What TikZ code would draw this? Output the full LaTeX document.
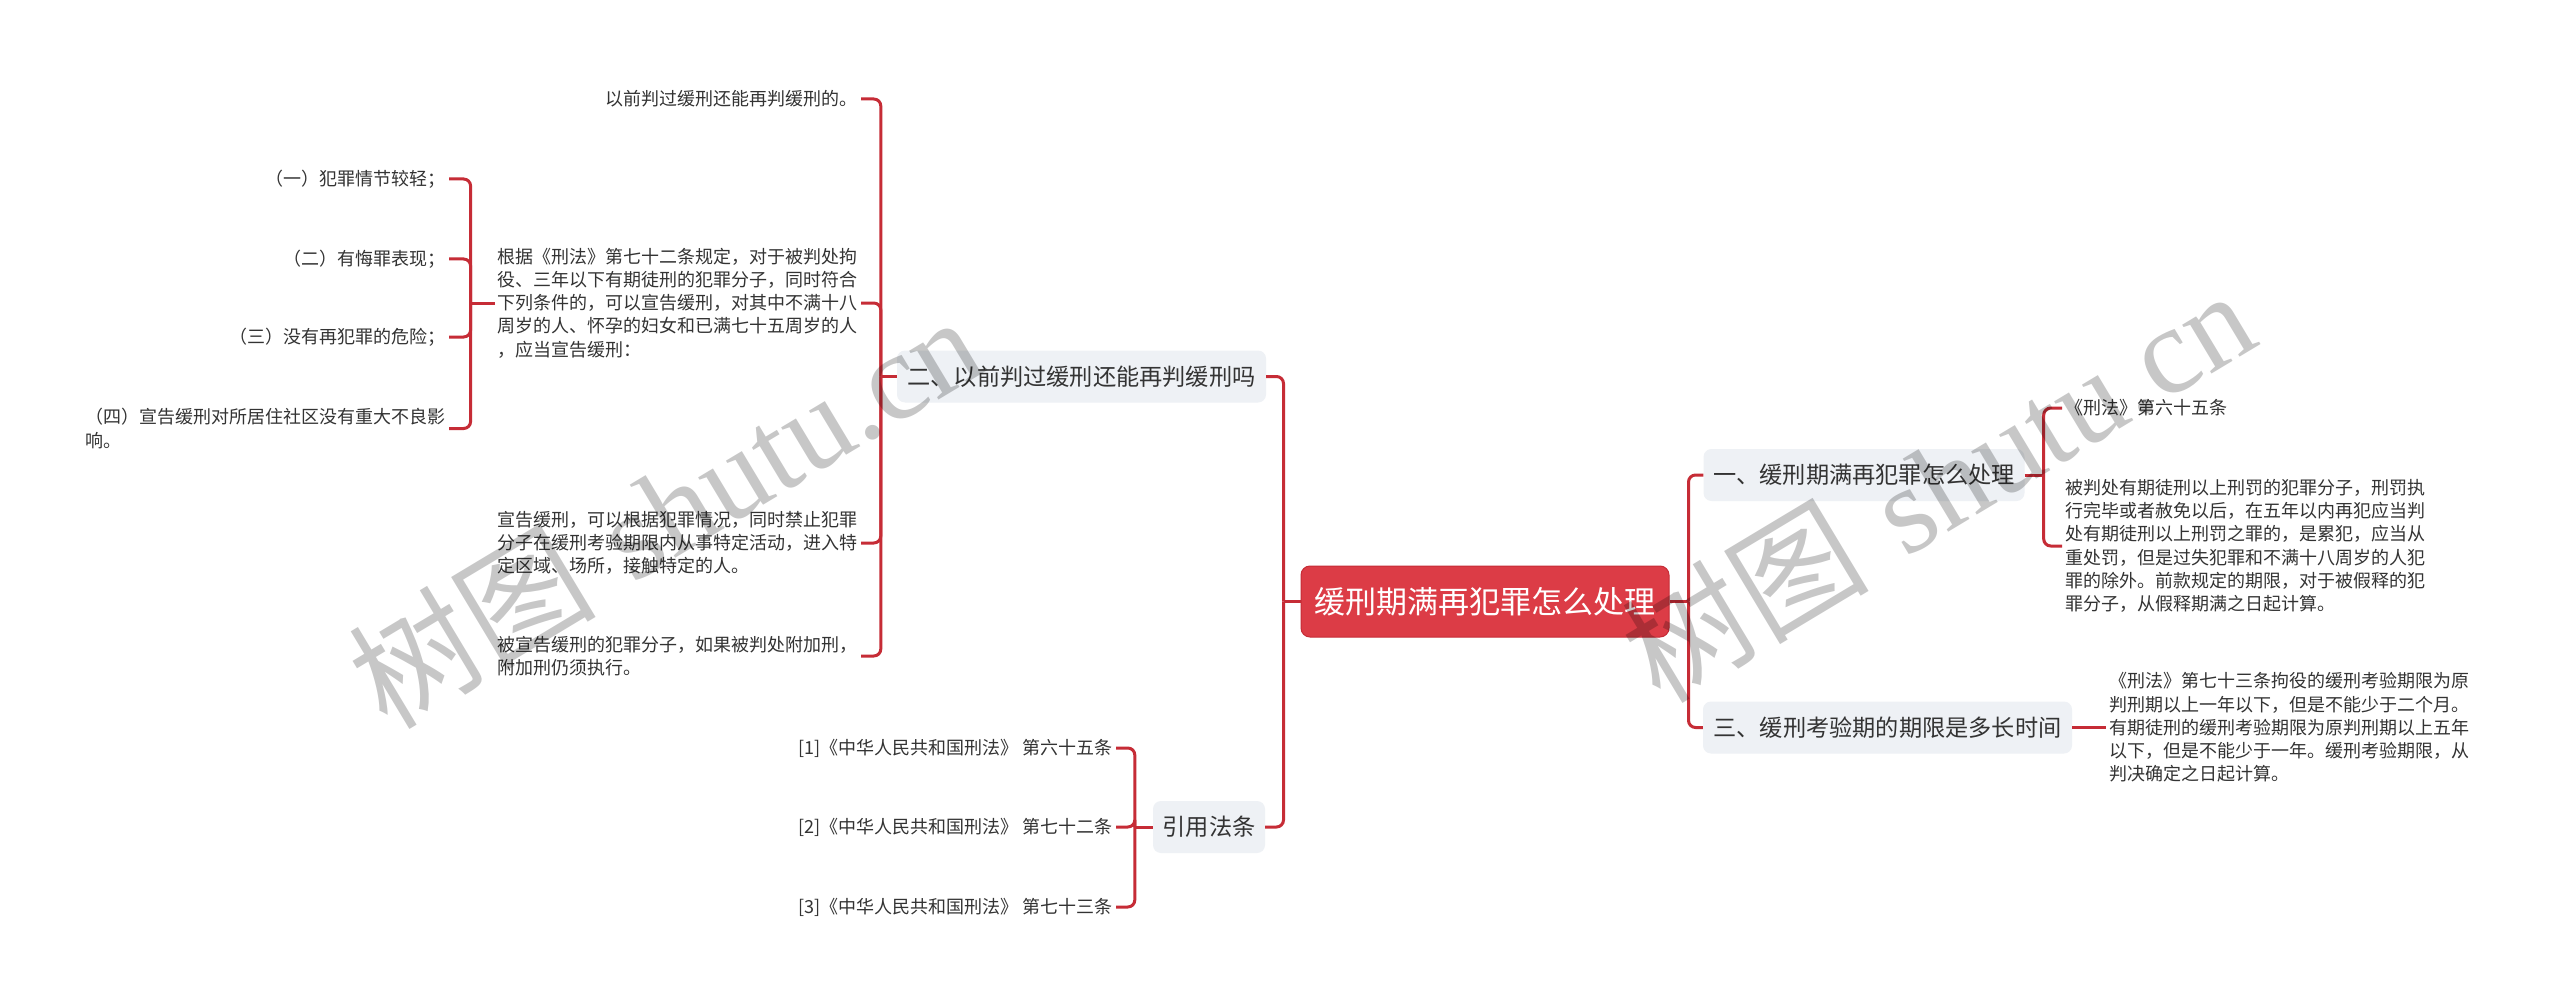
\documentclass[tikz,border=0pt]{standalone}
\usepackage{fontspec}
\newfontfamily\cjk{Noto Sans CJK SC}
\newfontfamily\wmlat{Liberation Serif}
\definecolor{rootred}{RGB}{220,60,70}
\definecolor{linkred}{RGB}{198,44,54}
\definecolor{midgray}{RGB}{238,241,245}
\definecolor{txt}{RGB}{51,51,51}
\begin{document}
\begin{tikzpicture}[x=1pt,y=-1pt,
  link/.style={draw=linkred, line width=3pt, rounded corners=7pt},
  rootbox/.style={rectangle, rounded corners=9pt, fill=rootred, draw=linkred, line width=1pt,
    text=white, font={\cjk\fontsize{31}{31}\selectfont}, minimum width=368pt, minimum height=71pt, inner sep=0pt},
  midbox/.style={rectangle, rounded corners=8pt, fill=midgray, text=txt,
    font={\cjk\fontsize{23.2}{28}\selectfont}, minimum height=52pt, inner sep=0pt},
  leaf/.style={text=txt, font={\cjk\fontsize{18}{23.3}\selectfont}, inner sep=3pt, align=left},
  wmark/.style={rotate=31, text=black, text opacity=0.22, font={\fontsize{124}{124}\selectfont}, inner sep=0pt}
]
\useasboundingbox (0,0) rectangle (2560,1003);
\fill[white] (0,0) rectangle (2560,1003);

% main nodes
\node[rootbox] (root) at (1485,601.5) {缓刑期满再犯罪怎么处理};
\node[midbox, minimum width=369pt] (L1) at (1081.5,376.5) {二、以前判过缓刑还能再判缓刑吗};
\node[midbox, minimum width=112pt] (L2) at (1209,827) {引用法条};
\node[midbox, minimum width=321pt] (R1) at (1864,475) {一、缓刑期满再犯罪怎么处理};
\node[midbox, minimum width=369pt] (R2) at (1887.5,727.5) {三、缓刑考验期的期限是多长时间};

% left branch 1 leaves
\node[leaf, anchor=east] (A1) at (861,99) {以前判过缓刑还能再判缓刑的。};
\node[leaf, anchor=east] (A2) at (861,303) {根据《刑法》第七十二条规定，对于被判处拘\\役、三年以下有期徒刑的犯罪分子，同时符合\\下列条件的，可以宣告缓刑，对其中不满十八\\周岁的人、怀孕的妇女和已满七十五周岁的人\\，应当宣告缓刑：};
\node[leaf, anchor=east] (A3) at (861,543) {宣告缓刑，可以根据犯罪情况，同时禁止犯罪\\分子在缓刑考验期限内从事特定活动，进入特\\定区域、场所，接触特定的人。};
\node[leaf, anchor=east] (A4) at (861,656) {被宣告缓刑的犯罪分子，如果被判处附加刑，\\附加刑仍须执行。};

\node[leaf, anchor=east] (B1) at (449,179) {（一）犯罪情节较轻；};
\node[leaf, anchor=east] (B2) at (449,259) {（二）有悔罪表现；};
\node[leaf, anchor=east] (B3) at (449,337) {（三）没有再犯罪的危险；};
\node[leaf, anchor=east] (B4) at (449,428.5) {（四）宣告缓刑对所居住社区没有重大不良影\\响。};

% citations
\node[leaf, anchor=east] (C1) at (1116,748) {[1]《中华人民共和国刑法》 第六十五条};
\node[leaf, anchor=east] (C2) at (1116,827) {[2]《中华人民共和国刑法》 第七十二条};
\node[leaf, anchor=east] (C3) at (1116,907) {[3]《中华人民共和国刑法》 第七十三条};

% right leaves
\node[leaf, anchor=west] (D1) at (2062,408) {《刑法》第六十五条};
\node[leaf, anchor=west] (D2) at (2062,546) {被判处有期徒刑以上刑罚的犯罪分子，刑罚执\\行完毕或者赦免以后，在五年以内再犯应当判\\处有期徒刑以上刑罚之罪的，是累犯，应当从\\重处罚，但是过失犯罪和不满十八周岁的人犯\\罪的除外。前款规定的期限，对于被假释的犯\\罪分子，从假释期满之日起计算。};
\node[leaf, anchor=west] (E1) at (2106,727.5) {《刑法》第七十三条拘役的缓刑考验期限为原\\判刑期以上一年以下，但是不能少于二个月。\\有期徒刑的缓刑考验期限为原判刑期以上五年\\以下，但是不能少于一年。缓刑考验期限，从\\判决确定之日起计算。};

% connectors
\draw[link] (root.west) -- ++(-17,0) coordinate (jL);
\draw[link] (jL) |- (L1.east);
\draw[link] (jL) |- (L2.east);

\draw[link] (L1.west) -- ++(-16,0) coordinate (jA);
\draw[link] (jA) |- (A1.east);
\draw[link] (jA) |- (A2.east);
\draw[link] (jA) |- (A3.east);
\draw[link] (jA) |- (A4.east);

\draw[link] (A2.west) -- ++(-24,0) coordinate (jB);
\draw[link] (jB) |- (B1.east);
\draw[link] (jB) |- (B2.east);
\draw[link] (jB) |- (B3.east);
\draw[link] (jB) |- (B4.east);

\draw[link] (L2.west) -- ++(-18,0) coordinate (jC);
\draw[link] (jC) |- (C1.east);
\draw[link] (jC) |- (C2.east);
\draw[link] (jC) |- (C3.east);

\draw[link] (root.east) -- ++(19,0) coordinate (jR);
\draw[link] (jR) |- (R1.west);
\draw[link] (jR) |- (R2.west);

\draw[link] (R1.east) -- ++(19,0) coordinate (jD);
\draw[link] (jD) |- (D1.west);
\draw[link] (jD) |- (D2.west);

\draw[link] (R2.east) -- (E1.west);

% watermarks
\node[wmark] (wm1) at (664,510) {{\cjk 树图} {\wmlat shutu.cn}};
\node[wmark] (wm2) at (1937,484) {{\cjk 树图} {\wmlat shutu.cn}};
\end{tikzpicture}
\end{document}
